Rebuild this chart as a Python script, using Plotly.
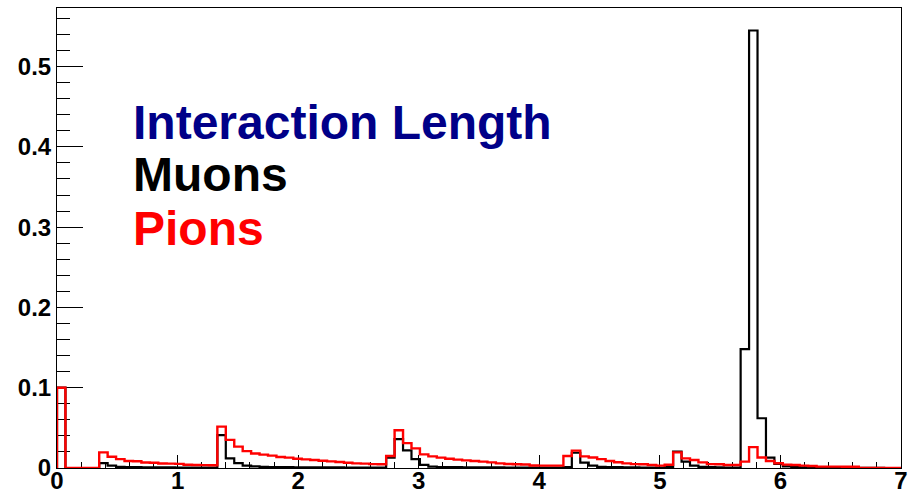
import numpy as np
import plotly.graph_objects as go

# Histogram binning: 100 bins of width 0.07 between 0 and 7
bin_edges = np.round(np.linspace(0.0, 7.0, 101), 4)

# Normalised bin contents, muons
muons = [
    0.1, 0, 0, 0, 0, 0.006, 0.003, 0.0015, 0.001, 0.001,
    0.0008, 0.0008, 0.0007, 0.0007, 0.0006, 0.0006, 0.0005, 0.0005, 0.0005, 0.041,
    0.012, 0.006, 0.003, 0.002, 0.0015, 0.0012, 0.001, 0.001, 0.0009, 0.0009,
    0.0008, 0.0008, 0.0007, 0.0007, 0.0006, 0.0006, 0.0005, 0.0005, 0.0005, 0.013,
    0.036, 0.022, 0.011, 0.004, 0.0017, 0.0012, 0.001, 0.001, 0.0009, 0.0008,
    0.0008, 0.0007, 0.0007, 0.0006, 0.0006, 0.0005, 0.0005, 0.0005, 0.0004, 0.0004,
    0.001, 0.019, 0.0066, 0.003, 0.0015, 0.001, 0.001, 0.0008, 0.0007, 0.0006,
    0.0005, 0.0005, 0.001, 0.0203, 0.008, 0.003, 0.0015, 0.001, 0.0008, 0.0006,
    0.0006, 0.148, 0.545, 0.062, 0.013, 0.005, 0.002, 0.001, 0.0008, 0.0006,
    0.0005, 0.0004, 0.0003, 0.0003, 0.0002, 0.0002, 0.0001, 0.0001, 0, 0,
]

# Normalised bin contents, pions
pions = [
    0.1, 0, 0, 0, 0, 0.0195, 0.014, 0.011, 0.0088, 0.0085,
    0.0068, 0.0066, 0.0056, 0.0054, 0.0052, 0.004, 0.0038, 0.0036, 0.0034, 0.0515,
    0.035, 0.0266, 0.021, 0.018, 0.0166, 0.0154, 0.0137, 0.0129, 0.0116, 0.0108,
    0.010, 0.0091, 0.0083, 0.0075, 0.0066, 0.0058, 0.0054, 0.0048, 0.0046, 0.015,
    0.047, 0.031, 0.0245, 0.017, 0.0145, 0.0129, 0.0116, 0.0104, 0.0095, 0.0087,
    0.0079, 0.007, 0.0058, 0.005, 0.0046, 0.0044, 0.0032, 0.003, 0.003, 0.003,
    0.015, 0.0216, 0.0145, 0.013, 0.011, 0.0087, 0.0072, 0.0058, 0.0048, 0.0046,
    0.0037, 0.003, 0.004, 0.0195, 0.012, 0.010, 0.007, 0.0048, 0.0046, 0.0037,
    0.0037, 0.008, 0.026, 0.013, 0.0087, 0.006, 0.0042, 0.0037, 0.003, 0.0025,
    0.0017, 0.0017, 0.0017, 0.0016, 0.0015, 0.0002, 0.0002, 0.0002, 0.0002, 0.0002,
]

legend_labels = ["Interaction Length", "Muons", "Pions"]
legend_colors = ["#000088", "#000000", "#ff0000"]


def outline(values):
    """Step outline of a histogram, closed down to zero at both ends."""
    xs = [bin_edges[0]] + list(bin_edges[:-1]) + [bin_edges[-1]]
    ys = [0.0] + list(values) + [0.0]
    return xs, ys


fig = go.Figure()
for vals, col, w in [(muons, "#000000", 2.2), (pions, "#ff0000", 2.4)]:
    xs, ys = outline(vals)
    fig.add_trace(go.Scatter(x=xs, y=ys, mode="lines", line=dict(color=col, width=w, shape="hv"),
                             hoverinfo="skip", showlegend=False))

tick_font = dict(family="Liberation Sans, Arial, sans-serif", size=24, color="black", weight="bold")

fig.update_xaxes(range=[0, 7], dtick=1, tick0=0, ticks="inside", ticklen=13, tickwidth=1,
                 tickcolor="black", showline=True, linecolor="black", linewidth=1, mirror=True,
                 showgrid=False, zeroline=False, tickfont=tick_font, layer="below traces",
                 automargin=False, ticklabelstandoff=-9, ticklabeloverflow="allow",
                 minor=dict(dtick=0.2, tick0=0, ticks="inside", ticklen=6, tickcolor="black", tickwidth=1))
fig.update_yaxes(range=[0, 0.573], dtick=0.1, tick0=0, ticks="inside", ticklen=26, tickwidth=1,
                 tickcolor="black", showline=True, linecolor="black", linewidth=1, mirror=True,
                 showgrid=False, zeroline=False, tickfont=tick_font, layer="below traces",
                 automargin=False,
                 minor=dict(dtick=0.02, tick0=0, ticks="inside", ticklen=13, tickcolor="black", tickwidth=1))

label_y = [0.431, 0.365, 0.298]
for text, col, yy in zip(legend_labels, legend_colors, label_y):
    fig.add_annotation(x=0.61, y=yy, xref="x", yref="y", text=text, showarrow=False,
                       xanchor="left", yanchor="middle",
                       font=dict(family="Liberation Sans, Arial, sans-serif", size=48,
                                 color=col, weight="bold"))

fig.update_layout(width=908, height=494, margin=dict(l=57, r=7, t=8, b=26),
                  paper_bgcolor="white", plot_bgcolor="white")

fig.write_html("out.html")
